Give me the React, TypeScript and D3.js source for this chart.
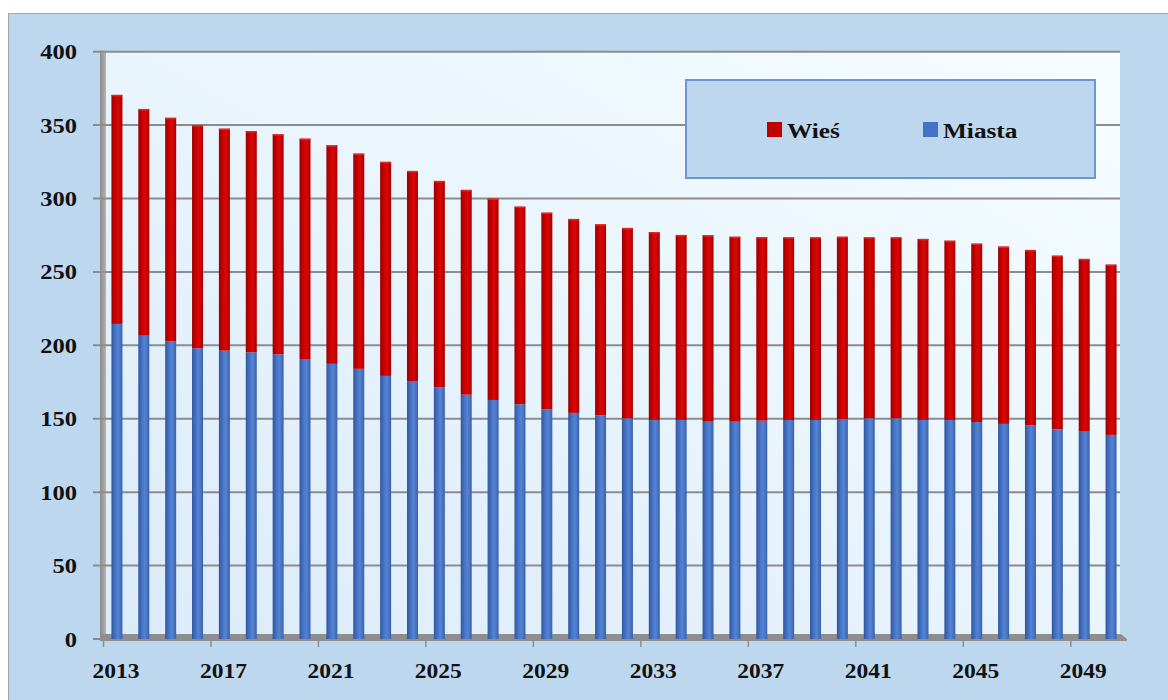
import React from "react";
import * as d3 from "d3";

const years: string[] = d3.range(2013, 2051).map(String);
const miasta: number[] = [
  214.6, 206.6, 202.8, 198.0, 196.4, 195.3, 193.9, 190.3, 187.4, 184.0,
  179.2, 175.3, 171.5, 166.4, 162.8, 159.9, 156.5, 154.0, 152.4, 150.3,
  149.2, 149.2, 148.0, 148.0, 148.7, 149.2, 149.2, 149.6, 150.3, 150.3,
  149.2, 149.2, 147.8, 146.5, 145.6, 142.8, 141.2, 139.0,
];
const wies: number[] = [
  156.0, 154.4, 152.2, 152.0, 151.2, 150.7, 149.9, 150.5, 148.9, 146.6,
  145.8, 143.5, 140.5, 139.5, 137.2, 134.6, 133.9, 132.1, 130.1, 129.7,
  128.0, 126.0, 127.0, 126.0, 125.1, 124.4, 124.4, 124.4, 123.3, 123.3,
  123.3, 122.1, 121.5, 120.8, 119.4, 118.3, 117.7, 116.0,
];
const yTicks: number[] = [0, 50, 100, 150, 200, 250, 300, 350, 400];
const xLabelYears: string[] = ["2013", "2017", "2021", "2025", "2029", "2033", "2037", "2041", "2045", "2049"];
const seriesNames: string[] = ["Miasta", "Wieś"];

const FONT = "'Liberation Serif', 'Times New Roman', serif";

export default function App() {
  const W = 1168, H = 700;
  const x = d3.scaleBand<string>().domain(years).range([103.5, 1124.5]);
  const y = d3.scaleLinear().domain([0, 400]).range([639, 51.7]);
  const rows = years.map((yr, i) => ({ year: yr, Miasta: miasta[i], "Wieś": wies[i] }));
  const stack = d3.stack<any>().keys(seriesNames);
  const layers = stack(rows);
  const barW = 11;
  const fills: Record<string, string> = { Miasta: "url(#gBlue)", "Wieś": "url(#gRed)" };
  const tickIdx = d3.range(0, years.length, 4);

  return (
    <svg width={W} height={H} style={{ position: "absolute", left: 0, top: 0 }}>
      <defs>
        <linearGradient id="gBg" x1="0" y1="1" x2="1" y2="0">
          <stop offset="0" stopColor="#dcebfa" />
          <stop offset="0.55" stopColor="#eaf5fd" />
          <stop offset="1" stopColor="#f6fdff" />
        </linearGradient>
        <linearGradient id="gRed" x1="0" y1="0" x2="1" y2="0">
          <stop offset="0" stopColor="#9a0000" />
          <stop offset="0.3" stopColor="#c40000" />
          <stop offset="0.6" stopColor="#dc0606" />
          <stop offset="1" stopColor="#a80000" />
        </linearGradient>
        <linearGradient id="gBlue" x1="0" y1="0" x2="1" y2="0">
          <stop offset="0" stopColor="#2f569e" />
          <stop offset="0.3" stopColor="#4470c2" />
          <stop offset="0.6" stopColor="#5584d4" />
          <stop offset="1" stopColor="#3a62ad" />
        </linearGradient>
        <linearGradient id="gWall" x1="0" y1="0" x2="1" y2="0">
          <stop offset="0" stopColor="#8a8a8a" />
          <stop offset="1" stopColor="#b4b4b4" />
        </linearGradient>
      </defs>
      {/* outer panel */}
      <rect x={8.5} y={13.5} width={1180} height={700} fill="#bdd7ee" stroke="#a6a6a6" strokeWidth={1} />
      {/* back wall */}
      <rect x={105} y={y(400)} width={1015} height={y(0) - y(400) - 4} fill="url(#gBg)" />
      {/* left wall */}
      <rect x={100} y={y(400) - 1} width={6} height={y(0) - y(400) + 3} fill="url(#gWall)" />
      {/* gridlines */}
      {yTicks.map((t) => (
        <line key={t} x1={93} x2={1120} y1={y(t)} y2={y(t)} stroke="#8c8c8c" strokeWidth={2} />
      ))}
      {/* floor */}
      <path d={`M100,634 L1121,634 L1127,639 L1127,641 L100,641 Z`} fill="#8e8e8e" />
      {/* bars */}
      {layers.map((layer) => (
        <g key={layer.key}>
          {layer.map((d, i) => {
            const cx = (x(years[i]) as number) + x.bandwidth() / 2;
            const top = y(d[1]);
            const bot = y(d[0]);
            return (
              <g key={i}>
                <rect x={cx - barW / 2} y={top} width={barW} height={bot - top} fill={fills[layer.key]} />
                {layer.key === "Wieś" && (
                  <rect x={cx - barW / 2} y={top} width={barW} height={1.5} fill="#e83030" opacity={0.8} />
                )}
              </g>
            );
          })}
        </g>
      ))}
      {/* x ticks */}
      {tickIdx.map((i) => (
        <line key={i} x1={x(years[i]) as number} x2={x(years[i]) as number} y1={641} y2={647} stroke="#8c8c8c" strokeWidth={1.5} />
      ))}
      {/* x labels */}
      {xLabelYears.map((yr) => {
        const cx = (x(yr) as number) + x.bandwidth() / 2 - 1;
        return (
          <text key={yr} transform={`translate(${cx},678) scale(1.12,1)`} textAnchor="middle"
            fontFamily={FONT} fontWeight="bold" fontSize={21} fill="#111">{yr}</text>
        );
      })}
      {/* y labels */}
      {yTicks.map((t) => (
        <text key={t} transform={`translate(77,${y(t) + 7.5}) scale(1.17,1)`} textAnchor="end"
          fontFamily={FONT} fontWeight="bold" fontSize={21} fill="#111">{t}</text>
      ))}
      {/* legend */}
      <rect x={686} y={80} width={409} height={98} fill="#bdd7ee" stroke="#6f94d8" strokeWidth={2} />
      <rect x={767} y={122} width={15} height={15} fill="#c00000" />
      <text transform="translate(787,138) scale(1.15,1)" fontFamily={FONT} fontWeight="bold" fontSize={22} fill="#111">Wieś</text>
      <rect x={923} y={122} width={15} height={15} fill="#4472c4" />
      <text transform="translate(943,138) scale(1.15,1)" fontFamily={FONT} fontWeight="bold" fontSize={22} fill="#111">Miasta</text>
    </svg>
  );
}
